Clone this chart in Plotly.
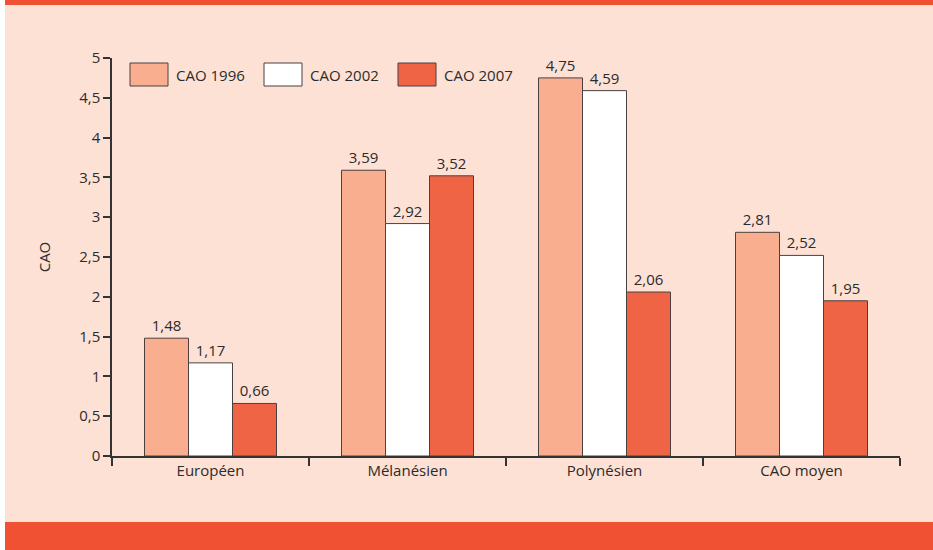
import plotly.graph_objects as go

# Data
categories = ["Européen", "Mélanésien", "Polynésien", "CAO moyen"]
series_names = ["CAO 1996", "CAO 2002", "CAO 2007"]
cao_1996 = [1.48, 3.59, 4.75, 2.81]
cao_2002 = [1.17, 2.92, 4.59, 2.52]
cao_2007 = [0.66, 3.52, 2.06, 1.95]
y_ticks = [0, 0.5, 1, 1.5, 2, 2.5, 3, 3.5, 4, 4.5, 5]

# Styling
W, H = 933, 550
M_L, M_R, M_T, M_B = 112, 33, 58, 94
fills = ["#F9AF8F", "#FFFFFF", "#EF6444"]
outline = "#4a4040"
bg = "#FDE1D5"
band = "#F05133"
txt = "#2b2b2b"
FONT = "Open Sans"
FS = 15

PW = W - M_L - M_R
PH = H - M_T - M_B


def px_x(px):
    return (px - M_L) / PW


def px_y(py):
    return (H - M_B - py) / PH


fig = go.Figure()
for name, vals, col in zip(series_names, [cao_1996, cao_2002, cao_2007], fills):
    fig.add_trace(go.Bar(
        name=name, x=categories, y=vals,
        marker=dict(color=col, line=dict(color=outline, width=1)),
        text=vals, texttemplate="%{y:.2f}", textposition="outside",
        textfont=dict(family=FONT, size=FS, color=txt),
        cliponaxis=False, showlegend=False,
    ))

shapes = [
    # panel background and bands
    dict(type="rect", xref="paper", yref="paper", layer="below",
         x0=px_x(5), x1=px_x(W + 2), y0=px_y(522), y1=px_y(5),
         fillcolor=bg, line=dict(width=0)),
    dict(type="rect", xref="paper", yref="paper", layer="below",
         x0=px_x(5), x1=px_x(W + 2), y0=px_y(-2), y1=px_y(5),
         fillcolor=band, line=dict(width=0)),
    dict(type="rect", xref="paper", yref="paper", layer="below",
         x0=px_x(5), x1=px_x(W + 2), y0=px_y(H + 2), y1=px_y(522),
         fillcolor=band, line=dict(width=0)),
]
annotations = []

# custom legend with large swatches
leg_x0, leg_step, sw_w, sw_top, sw_bot = 130, 134, 38, 63, 86
for i, (name, col) in enumerate(zip(series_names, fills)):
    x0 = leg_x0 + i * leg_step
    shapes.append(dict(type="rect", xref="paper", yref="paper",
                       x0=px_x(x0), x1=px_x(x0 + sw_w),
                       y0=px_y(sw_bot), y1=px_y(sw_top),
                       fillcolor=col, line=dict(color=outline, width=1)))
    annotations.append(dict(xref="paper", yref="paper", x=px_x(x0 + sw_w + 6),
                            y=px_y((sw_top + sw_bot) / 2), text=name,
                            showarrow=False, xanchor="left", yanchor="middle",
                            font=dict(family=FONT, size=FS, color=txt)))

fig.update_layout(
    width=W, height=H,
    margin=dict(l=M_L, r=M_R, t=M_T, b=M_B),
    paper_bgcolor="white", plot_bgcolor="rgba(0,0,0,0)",
    separators=", ",
    barmode="group", bargap=0.33, bargroupgap=0,
    shapes=shapes, annotations=annotations,
    font=dict(family=FONT, size=FS, color=txt),
    xaxis=dict(showline=True, linecolor="#333", linewidth=1.5,
               ticks="outside", tickson="boundaries", ticklen=8,
               tickcolor="#333", tickwidth=1.5, showgrid=False,
               tickfont=dict(family=FONT, size=FS, color=txt)),
    yaxis=dict(range=[0, 5], tickvals=y_ticks, showline=True,
               linecolor="#333", linewidth=1.5, ticks="outside", ticklen=7,
               tickcolor="#333", tickwidth=1.5, showgrid=False, zeroline=False,
               tickfont=dict(family=FONT, size=FS, color=txt),
               title=dict(text="CAO", standoff=25,
                          font=dict(family=FONT, size=FS, color=txt))),
)

fig.write_html("out.html")
